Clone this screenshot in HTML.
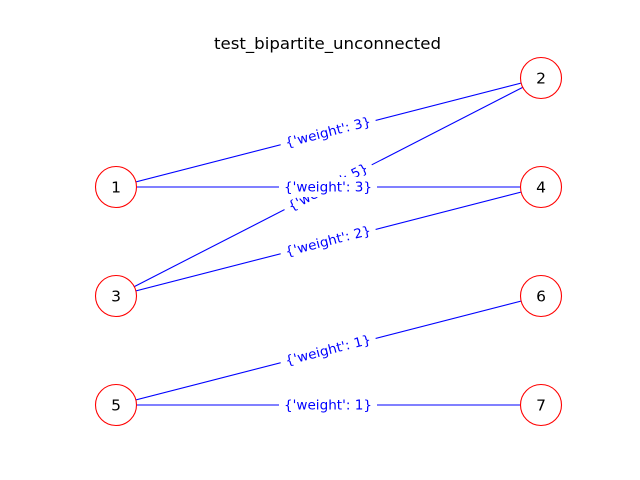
<!DOCTYPE html>
<html><head><meta charset="utf-8"><style>html,body{margin:0;padding:0;background:#fff}svg{display:block}</style></head>
<body>
<svg width="640" height="480" viewBox="0 0 640 480" xmlns="http://www.w3.org/2000/svg" font-family="DejaVu Sans, Liberation Sans, sans-serif">
<rect width="640" height="480" fill="#fff"/>
<text x="327.5" y="49" font-size="16" text-anchor="middle" fill="#000" textLength="227" lengthAdjust="spacingAndGlyphs">test_bipartite_unconnected</text>
<g stroke="#0000ff" stroke-width="1.1">
<line x1="116" y1="187" x2="541" y2="78"/>
<line x1="116" y1="187" x2="541" y2="187"/>
<line x1="116" y1="296" x2="541" y2="78"/>
<line x1="116" y1="296" x2="541" y2="187"/>
<line x1="116" y1="405" x2="541" y2="296"/>
<line x1="116" y1="405" x2="541" y2="405"/>
</g>
<g font-size="13" fill="#0000ff" text-anchor="middle">
<g transform="translate(328,132) rotate(-14.4)"><rect x="-49" y="-10" width="98" height="20" fill="#fff"/><text y="4.5" textLength="88" lengthAdjust="spacingAndGlyphs">{'weight': 3}</text></g>
<g transform="translate(328,187) rotate(-27.2)"><rect x="-49" y="-10" width="98" height="20" fill="#fff"/><text y="4.5" textLength="88" lengthAdjust="spacingAndGlyphs">{'weight': 5}</text></g>
<g transform="translate(328,187)"><rect x="-49" y="-10" width="98" height="20" fill="#fff"/><text y="4.5" textLength="88" lengthAdjust="spacingAndGlyphs">{'weight': 3}</text></g>
<g transform="translate(328,241) rotate(-14.4)"><rect x="-49" y="-10" width="98" height="20" fill="#fff"/><text y="4.5" textLength="88" lengthAdjust="spacingAndGlyphs">{'weight': 2}</text></g>
<g transform="translate(328,350) rotate(-14.4)"><rect x="-49" y="-10" width="98" height="20" fill="#fff"/><text y="4.5" textLength="88" lengthAdjust="spacingAndGlyphs">{'weight': 1}</text></g>
<g transform="translate(328,405)"><rect x="-49" y="-10" width="98" height="20" fill="#fff"/><text y="4.5" textLength="88" lengthAdjust="spacingAndGlyphs">{'weight': 1}</text></g>
</g>
<g fill="#fff" stroke="#ff0000" stroke-width="1.1">
<circle cx="116" cy="187" r="20.5"/><circle cx="116" cy="296" r="20.5"/><circle cx="116" cy="405" r="20.5"/>
<circle cx="541" cy="78" r="20.5"/><circle cx="541" cy="187" r="20.5"/><circle cx="541" cy="296" r="20.5"/><circle cx="541" cy="405" r="20.5"/>
</g>
<g font-size="15.5" fill="#000" text-anchor="middle">
<text x="116" y="192.5">1</text><text x="116" y="301.5">3</text><text x="116" y="410.5">5</text>
<text x="541" y="83.5">2</text><text x="541" y="192.5">4</text><text x="541" y="301.5">6</text><text x="541" y="410.5">7</text>
</g>
</svg>
</body></html>
